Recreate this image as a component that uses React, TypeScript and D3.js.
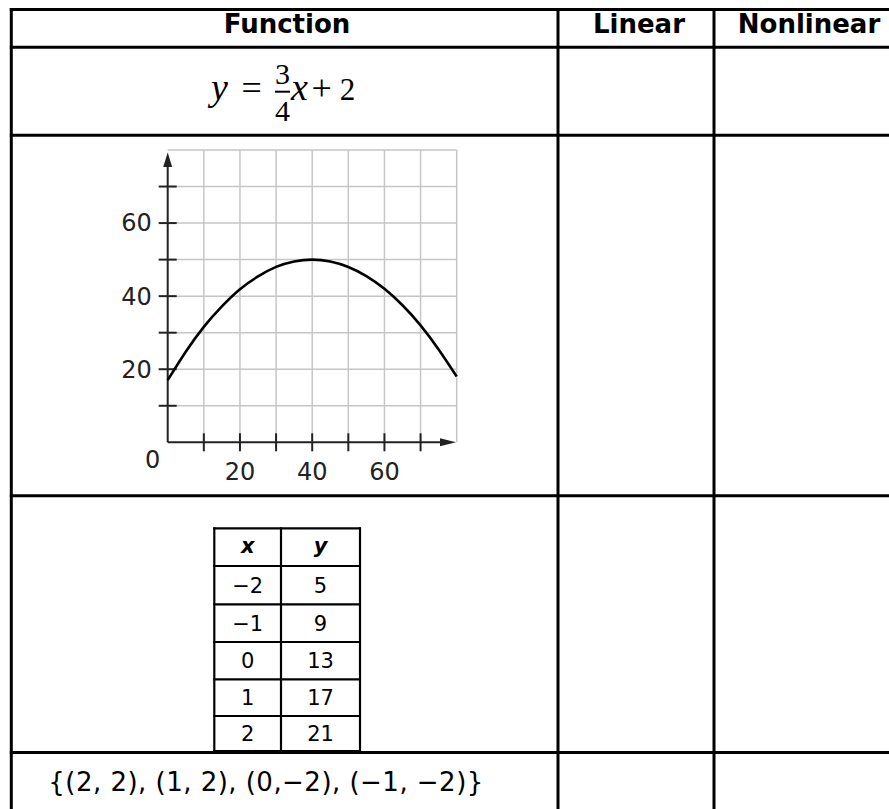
import React, { useRef, useEffect } from "react";
import * as d3 from "d3";

// header row and the function column contents
const headers = ["Function", "Linear", "Nonlinear"];
const headerCenters = [287, 639, 809];

// parabola (x in 0..80, y peaks at 50)
const curveX = [0, 5, 10, 15, 20, 25, 30, 35, 40, 45, 50, 55, 60, 65, 70, 75, 80];
const curveY = [17, 24.8, 31.6, 37.2, 41.9, 45.4, 48, 49.5, 50, 49.5, 48, 45.5, 42, 37.5, 32, 25.4, 18];

const gridSteps = [10, 20, 30, 40, 50, 60, 70, 80];
const yTicks = [10, 20, 30, 40, 50, 60, 70];
const yTickLabels = [20, 40, 60];
const xTicks = [10, 20, 30, 40, 50, 60, 70];
const xTickLabels = [20, 40, 60];

// small x / y table
const tableXs = ["\u22122", "\u22121", "0", "1", "2"];
const tableYs = ["5", "9", "13", "17", "21"];

const orderedPairs = "{(2, 2), (1, 2), (0,\u22122), (\u22121, \u22122)}";

const App = () => {
  const svgRef = useRef<SVGSVGElement>(null);

  useEffect(() => {
    document.body.style.margin = "0";
    document.body.style.overflow = "hidden";

    const width = 889;
    const height = 809;
    const svg = d3.select(svgRef.current).attr("width", width).attr("height", height);
    svg.selectAll("*").remove();

    const colEdges = [11.3, 558, 714, 905];
    const rowEdges = [9.5, 47.3, 135.3, 495.7, 752.5, 840];
    const sans = "'DejaVu Sans', Verdana, sans-serif";
    const serif = "'Liberation Serif', 'Times New Roman', serif";

    svg.append("rect").attr("width", width).attr("height", height).attr("fill", "#fff");

    // ---- outer table grid
    const grid = svg.append("g").attr("stroke", "#000").attr("stroke-width", 3);
    rowEdges.slice(0, -1).forEach((y) => {
      grid.append("line").attr("x1", colEdges[0] - 1.5).attr("x2", width).attr("y1", y).attr("y2", y);
    });
    colEdges.slice(0, -1).forEach((x) => {
      grid.append("line").attr("x1", x).attr("x2", x).attr("y1", rowEdges[0] - 1.5).attr("y2", height);
    });

    // ---- header
    headers.forEach((h, i) => {
      svg
        .append("text")
        .attr("x", headerCenters[i])
        .attr("y", 33.3)
        .attr("text-anchor", "middle")
        .style("font-family", sans)
        .style("font-weight", "bold")
        .style("font-size", "26px")
        .text(h);
    });

    // ---- equation y = 3/4 x + 2
    const eq = svg.append("g").style("font-family", serif).attr("fill", "#000");
    eq.append("text").attr("x", 219.5).attr("y", 100).attr("text-anchor", "middle")
      .style("font-style", "italic").style("font-size", "38px").text("y");
    eq.append("text").attr("x", 251.7).attr("y", 100).attr("text-anchor", "middle")
      .style("font-size", "36px").text("=");
    eq.append("text").attr("x", 282.5).attr("y", 83.5).attr("text-anchor", "middle")
      .style("font-size", "30px").text("3");
    eq.append("line").attr("x1", 275).attr("x2", 290).attr("y1", 91.7).attr("y2", 91.7)
      .attr("stroke", "#000").attr("stroke-width", 2);
    eq.append("text").attr("x", 282.5).attr("y", 120.5).attr("text-anchor", "middle")
      .style("font-size", "30px").text("4");
    eq.append("text").attr("x", 299.5).attr("y", 100).attr("text-anchor", "middle")
      .style("font-style", "italic").style("font-size", "38px").text("x");
    eq.append("text").attr("x", 321.7).attr("y", 100).attr("text-anchor", "middle")
      .style("font-size", "36px").text("+");
    eq.append("text").attr("x", 347.5).attr("y", 100).attr("text-anchor", "middle")
      .style("font-size", "31px").text("2");

    // ---- graph
    const x = d3.scaleLinear().domain([0, 80]).range([167.7, 456.7]);
    const y = d3.scaleLinear().domain([0, 80]).range([442.3, 150]);
    const g = svg.append("g");

    g.selectAll(".vgrid")
      .data(gridSteps)
      .enter()
      .append("line")
      .attr("x1", (d) => x(d))
      .attr("x2", (d) => x(d))
      .attr("y1", y(0))
      .attr("y2", y(80))
      .attr("stroke", "#c6c6c6")
      .attr("stroke-width", 1.5);

    g.selectAll(".hgrid")
      .data(gridSteps)
      .enter()
      .append("line")
      .attr("x1", x(0))
      .attr("x2", x(80))
      .attr("y1", (d) => y(d))
      .attr("y2", (d) => y(d))
      .attr("stroke", "#c6c6c6")
      .attr("stroke-width", 1.5);

    const axisColor = "#222";
    // axes with arrows
    g.append("line").attr("x1", x(0)).attr("x2", x(0)).attr("y1", y(0)).attr("y2", 160)
      .attr("stroke", axisColor).attr("stroke-width", 2);
    g.append("path")
      .attr("d", `M${x(0)},152.5 L${x(0) - 4.5},167 L${x(0) + 4.5},167 Z`)
      .attr("fill", axisColor);
    g.append("line").attr("x1", x(0)).attr("x2", 448).attr("y1", y(0)).attr("y2", y(0))
      .attr("stroke", axisColor).attr("stroke-width", 2);
    g.append("path")
      .attr("d", `M456,${y(0)} L440,${y(0) - 4} L440,${y(0) + 4} Z`)
      .attr("fill", axisColor);

    g.selectAll(".ytick")
      .data(yTicks)
      .enter()
      .append("line")
      .attr("x1", x(0) - 9)
      .attr("x2", x(0) + 9)
      .attr("y1", (d) => y(d))
      .attr("y2", (d) => y(d))
      .attr("stroke", axisColor)
      .attr("stroke-width", 2);

    g.selectAll(".xtick")
      .data(xTicks)
      .enter()
      .append("line")
      .attr("x1", (d) => x(d))
      .attr("x2", (d) => x(d))
      .attr("y1", y(0) - 9)
      .attr("y2", y(0) + 9)
      .attr("stroke", axisColor)
      .attr("stroke-width", 2);

    g.selectAll(".ylabel")
      .data(yTickLabels)
      .enter()
      .append("text")
      .attr("x", x(0) - 16)
      .attr("y", (d) => y(d))
      .attr("dy", "0.35em")
      .attr("text-anchor", "end")
      .style("font-family", sans)
      .style("font-size", "24px")
      .attr("fill", "#222")
      .text((d) => d);

    g.selectAll(".xlabel")
      .data(xTickLabels)
      .enter()
      .append("text")
      .attr("x", (d) => x(d))
      .attr("y", y(0) + 38)
      .attr("text-anchor", "middle")
      .style("font-family", sans)
      .style("font-size", "24px")
      .attr("fill", "#222")
      .text((d) => d);

    g.append("text")
      .attr("x", x(0) - 15)
      .attr("y", y(0) + 26)
      .attr("text-anchor", "middle")
      .style("font-family", sans)
      .style("font-size", "24px")
      .attr("fill", "#222")
      .text("0");

    const line = d3
      .line<number>()
      .x((_, i) => x(curveX[i]))
      .y((d) => y(d))
      .curve(d3.curveNatural);

    g.append("path")
      .attr("d", line(curveY))
      .attr("fill", "none")
      .attr("stroke", "#000")
      .attr("stroke-width", 2.6);

    // ---- small x/y table
    const tCols = [214.3, 281, 360];
    const tRows = [528.3, 566, 604.3, 642, 679.3, 716, 751];
    const t = svg.append("g");
    tRows.forEach((ry) => {
      t.append("line").attr("x1", tCols[0] - 1).attr("x2", tCols[2] + 1).attr("y1", ry).attr("y2", ry)
        .attr("stroke", "#000").attr("stroke-width", 2.2);
    });
    tCols.forEach((cx) => {
      t.append("line").attr("x1", cx).attr("x2", cx).attr("y1", tRows[0] - 1).attr("y2", tRows[6])
        .attr("stroke", "#000").attr("stroke-width", 2.2);
    });

    const cellX = (c: number) => (tCols[c] + tCols[c + 1]) / 2;
    const cellY = (r: number) => (tRows[r] + tRows[r + 1]) / 2;

    ["x", "y"].forEach((h, c) => {
      t.append("text")
        .attr("x", cellX(c))
        .attr("y", cellY(0))
        .attr("dy", "0.3em")
        .attr("text-anchor", "middle")
        .style("font-family", sans)
        .style("font-weight", "bold")
        .style("font-style", "italic")
        .style("font-size", "21px")
        .text(h);
    });

    tableXs.forEach((v, r) => {
      t.append("text")
        .attr("x", cellX(0))
        .attr("y", cellY(r + 1))
        .attr("dy", "0.37em")
        .attr("text-anchor", "middle")
        .style("font-family", sans)
        .style("font-size", "21px")
        .text(v);
    });
    tableYs.forEach((v, r) => {
      t.append("text")
        .attr("x", cellX(1))
        .attr("y", cellY(r + 1))
        .attr("dy", "0.37em")
        .attr("text-anchor", "middle")
        .style("font-family", sans)
        .style("font-size", "21px")
        .text(v);
    });

    // ---- ordered pairs row
    svg
      .append("text")
      .attr("x", 48.3)
      .attr("y", 791)
      .attr("textLength", 435)
      .attr("lengthAdjust", "spacing")
      .style("font-family", sans)
      .style("font-size", "26px")
      .text(orderedPairs);
  }, []);

  return (
    <div style={{ position: "absolute", left: 0, top: 0 }}>
      <svg ref={svgRef} style={{ display: "block" }}></svg>
    </div>
  );
};

export default App;
